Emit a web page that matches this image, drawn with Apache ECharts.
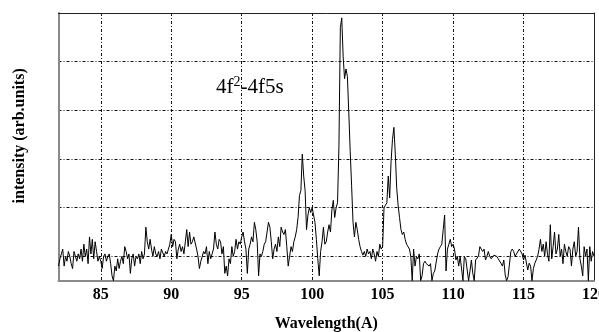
<!DOCTYPE html>
<html>
<head>
<meta charset="utf-8">
<script src="https://cdn.jsdelivr.net/npm/echarts@6/dist/echarts.min.js"></script>
<style>
  html, body { margin: 0; padding: 0; background: #fff; }
  #spectrum-box { width: 599px; height: 332px; }
</style>
</head>
<body>
<div id="spectrum-box"></div>
<script>
// wavelength grid: 82.0 .. 120.0 A, one reading every 0.1 A
const wlStart = 82;
const wlStep = 0.1;

// intensity readings (arb. units), split by wavelength range
const counts82to90 = [
  0.6, 0.9, 1.1, 1.3, 0.6, 1.0, 0.8, 1.2, 1.0, 0.7,
  0.5, 1.2, 1.0, 0.8, 1.1, 0.9, 1.3, 0.8, 1.5, 1.0,
  1.3, 0.7, 1.8, 1.1, 1.7, 0.9, 1.6, 1.2, 0.8, 1.0,
  0.8, 0.5, 1.0, 1.1, 0.8, 1.0, 1.1, 0.7, 0.2, 0.0,
  0.6, 0.4, 0.9, 0.5, 0.8, 1.0, 0.7, 1.4, 1.2, 0.9,
  1.1, 0.3, 0.9, 1.1, 0.6, 1.0, 0.9, 1.1, 0.7, 1.2,
  0.9, 1.1, 2.2, 1.6, 1.3, 1.7, 1.3, 1.0, 1.4, 1.1,
  1.0, 1.2, 0.9, 1.3, 1.3, 1.0, 1.2, 1.1, 1.3, 1.5
];
const counts90to98 = [
  1.9, 1.4, 1.7, 1.6, 0.9, 1.3, 1.5, 1.2, 1.4, 1.1,
  1.6, 2.1, 1.4, 2.0, 1.5, 1.6, 1.8, 1.8, 1.3, 1.0,
  0.5, 0.8, 1.0, 1.2, 1.1, 1.4, 0.7, 1.2, 0.9, 1.1,
  1.3, 2.0, 1.5, 1.3, 1.7, 1.6, 1.1, 1.4, 0.3, 0.6,
  0.2, 0.9, 0.7, 1.4, 1.0, 1.2, 1.7, 1.3, 1.6, 1.5,
  1.8, 2.0, 1.6, 1.3, 0.3, 1.3, 1.5, 1.8, 1.6, 2.4,
  2.1, 1.6, 0.2, 1.1, 1.0, 1.2, 1.5, 1.6, 2.0, 2.4,
  2.2, 1.6, 0.9, 1.3, 1.5, 1.2, 1.8, 1.4, 2.2, 2.0
];
const counts98to106 = [
  1.9, 2.1, 1.4, 0.6, 1.0, 1.4, 1.2, 1.6, 1.8, 2.1,
  2.6, 3.5, 3.7, 5.2, 4.3, 3.7, 2.1, 2.7, 3.0, 2.8,
  3.0, 2.7, 2.4, 1.7, 0.9, 0.2, 1.2, 1.6, 2.2, 1.5,
  1.6, 2.0, 2.3, 2.0, 2.9, 3.3, 2.6, 3.0, 3.2, 5.5,
  10.4, 10.8, 9.2, 8.3, 8.7, 8.4, 6.9, 5.3, 3.9, 2.4,
  1.8, 2.4, 2.1, 1.7, 1.4, 1.2, 1.05, 1.2, 1.0, 1.3,
  1.1, 1.2, 0.9, 1.3, 1.1, 0.8, 1.2, 1.0, 1.5, 1.3,
  1.4, 3.0, 3.1, 3.2, 4.3, 3.4, 4.9, 5.8, 6.3, 5.2
];
const counts106to114 = [
  3.8, 3.1, 2.6, 2.1, 1.9, 2.0, 1.7, 1.5, 1.4, 1.3,
  1.0, 0.0, 1.3, 0.6, 1.0, 0.9, 1.1, 0.0, 0.2, 0.7,
  0.8, 0.7, 0.7, 0.6, 0.7, 0.0, 0.3, 0.4, 0.4, 1.1,
  1.3, 1.4, 1.5, 2.1, 2.7, 0.4, 1.3, 1.5, 1.7, 1.4,
  1.5, 1.3, 0.85, 1.0, 0.6, 1.0, 1.0, 0.0, 1.0, 0.9,
  0.9, 0.0, 0.4, 0.85, 0.3, 0.0, 0.85, 0.9, 1.0, 1.4,
  1.3, 1.2, 1.3, 0.85, 1.0, 1.2, 1.0, 0.9, 0.85, 1.05,
  1.0, 1.0, 0.9, 0.85, 0.72, 0.6, 0.85, 0.23, 0.0, 0.16
];
const counts114to120 = [
  0.2, 1.2, 1.3, 1.2, 1.0, 1.1, 1.1, 1.3, 1.3, 1.1,
  0.85, 1.05, 1.0, 0.44, 0.72, 0.6, 0.0, 0.5, 0.72, 0.85,
  1.0, 1.3, 1.7, 1.2, 1.5, 1.0, 1.6, 1.1, 0.8, 2.3,
  0.9, 1.4, 2.0, 1.1, 1.3, 1.9, 1.0, 1.3, 0.7, 1.5,
  1.2, 1.0, 1.4, 1.3, 0.6, 1.3, 1.6, 1.0, 1.2, 2.2,
  0.9, 0.6, 0.2, 1.4, 1.0, 1.3, 0.0, 1.4, 0.8, 1.2,
  1.0
];

const xMin = 82;
const xMax = 120;
const axisTitleX = 'Wavelength(A)';
const axisTitleY = 'intensity (arb.units)';

const counts = [].concat(counts82to90, counts90to98, counts98to106, counts106to114, counts114to120);
const spectrum = counts.map((v, i) => [+(wlStart + i * wlStep).toFixed(1), v]);

const serif = '"Liberation Serif", "Times New Roman", serif';
const gridDash = {color: '#111', width: 1, type: [3, 2, 1, 2]};

const option = {
  animation: false,
  backgroundColor: '#fff',
  grid: {left: 58.5, right: 5, top: 13, bottom: 51.3, outerBoundsMode: 'none', containLabel: false},
  xAxis: [
    {
      type: 'value',
      min: xMin,
      max: xMax,
      splitNumber: 8,
      position: 'bottom',
      name: axisTitleX,
      nameLocation: 'middle',
      nameGap: 35,
      nameTextStyle: {fontFamily: serif, fontWeight: 'bold', fontSize: 16, color: '#000'},
      axisLine: {show: true, lineStyle: {color: '#8a8a8a', width: 2}},
      axisTick: {show: false},
      axisLabel: {
        showMinLabel: false,
        margin: 6,
        fontFamily: serif,
        fontWeight: 'bold',
        fontSize: 16,
        color: '#000'
      },
      splitLine: {show: true, lineStyle: gridDash}
    },
    {
      type: 'value',
      min: xMin,
      max: xMax,
      position: 'top',
      axisLine: {show: true, lineStyle: {color: '#222', width: 1}},
      axisTick: {show: false},
      axisLabel: {show: false},
      splitLine: {show: false}
    }
  ],
  yAxis: [
    {
      type: 'value',
      min: 0,
      max: 11,
      position: 'left',
      name: axisTitleY,
      nameLocation: 'middle',
      nameGap: 31,
      nameTextStyle: {fontFamily: serif, fontWeight: 'bold', fontSize: 16, color: '#000', padding: [0, 0, 0, 22]},
      axisLine: {show: true, lineStyle: {color: '#8a8a8a', width: 2}},
      axisTick: {show: false},
      axisLabel: {show: false},
      splitLine: {show: false}
    },
    {
      // only here for the horizontal grid, counted down from the top edge
      type: 'value',
      inverse: true,
      min: 0,
      max: 5.5,
      interval: 1,
      position: 'right',
      axisLine: {show: true, lineStyle: {color: '#222', width: 1}},
      axisTick: {show: false},
      axisLabel: {show: false},
      splitLine: {show: true, lineStyle: gridDash}
    }
  ],
  graphic: [
    {
      type: 'text',
      left: 216,
      top: 75,
      style: {
        text: '4f{sup|2}-4f5s',
        fontFamily: serif,
        fontSize: 21,
        lineHeight: 24,
        fill: '#000',
        rich: {
          sup: {fontFamily: serif, fontSize: 14, lineHeight: 14, verticalAlign: 'top', fill: '#000'}
        }
      }
    }
  ],
  series: [
    {
      type: 'line',
      xAxisIndex: 0,
      yAxisIndex: 0,
      data: spectrum,
      showSymbol: false,
      symbol: 'none',
      lineStyle: {color: '#000', width: 1},
      z: 5
    }
  ]
};

const chart = echarts.init(document.getElementById('spectrum-box'));
chart.setOption(option);
</script>
</body>
</html>
